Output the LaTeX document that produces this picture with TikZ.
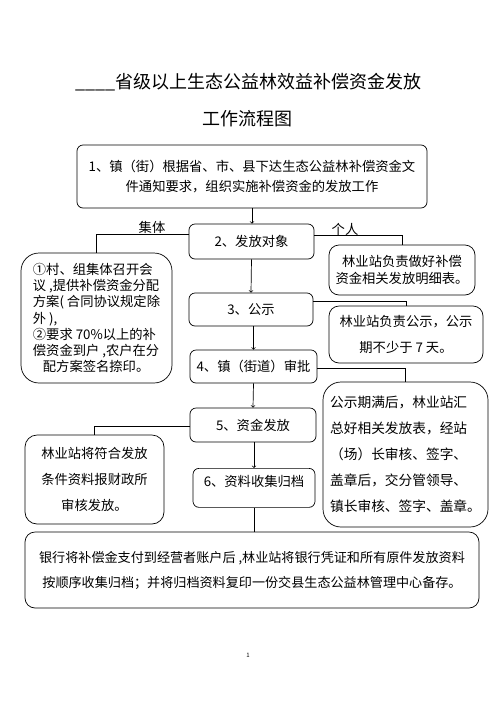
\documentclass[tikz,border=0pt]{standalone}
\usepackage{fontspec}
\setmainfont{Noto Sans CJK SC}

\begin{document}
\begin{tikzpicture}[x=1pt,y=-1pt,
	every node/.style={inner sep=2pt},
	box/.style={draw,rounded corners=6pt,line width=0.7pt,align=center,font=\fontsize{13.3}{20}\selectfont},
	sidebox/.style={box,rounded corners=10pt},
	bigbox/.style={box,rounded corners=18pt},
	link/.style={line width=0.7pt},
	flow/.style={link,->}]
	\useasboundingbox (0,0) rectangle (496,702);
	% title
	\node (title1) at (248.5,82) {\fontsize{18}{18}\selectfont \_\_\_\_省级以上生态公益林效益补偿资金发放};
	\node (title2) at (247.5,119) {\fontsize{18}{18}\selectfont 工作流程图};
	% main steps
	\node [box,minimum width=350pt,minimum height=63pt] (s1) at (252,176.5) {1、镇（街）根据省、市、县下达生态公益林补偿资金文\\件通知要求，组织实施补偿资金的发放工作};
	\node [box,minimum width=125pt,minimum height=35pt] (s2) at (251.5,241.5) {2、发放对象};
	\node [box,minimum width=124pt,minimum height=33pt] (s3) at (251,309.5) {3、公示};
	\node [box,minimum width=127pt,minimum height=33pt] (s4) at (253.5,366.5) {4、镇（街道）审批};
	\node [box,minimum width=126pt,minimum height=34pt] (s5) at (253,425) {5、资金发放};
	\node [box,minimum width=122pt,text height=16pt,text depth=19pt,anchor=north] (s6) at (254,468) {6、资料收集归档};
	\node [sidebox,minimum width=454pt,minimum height=76pt,font=\fontsize{13.1}{25}\selectfont] (s7) at (252,570) {银行将补偿金支付到经营者账户后 ,林业站将银行凭证和所有原件发放资料\\按顺序收集归档；并将归档资料复印一份交县生态公益林管理中心备存。};
	% side notes
	\node [sidebox,minimum width=146pt,minimum height=50pt,font=\fontsize{13.3}{17}\selectfont] (r1) at (402,270) {林业站负责做好补偿\\资金相关发放明细表。};
	\node [bigbox,minimum width=151pt,minimum height=130pt,align=left,font=\fontsize{13.3}{16.3}\selectfont] (l1) at (96.5,318) {①村、组集体召开会\\议 ,提供补偿资金分配\\方案( 合同协议规定除\\外 ),\\②要求 70\%以上的补\\偿资金到户 ,农户在分\\\hspace*{10pt}配方案签名捺印。};
	\node [sidebox,minimum width=154pt,minimum height=57pt,font=\fontsize{13.3}{26}\selectfont] (r2) at (406,334.5) {林业站负责公示，公示\\期不少于 7 天。};
	\node [bigbox,minimum width=165pt,minimum height=145pt,align=left,font=\fontsize{13.7}{26}\selectfont] (r3) at (405.5,454.5) {公示期满后，林业站汇\\总好相关发放表，经站\\（场）长审核、签字、\\盖章后，交分管领导、\\镇长审核、签字、盖章。};
	\node [sidebox,rounded corners=12pt,minimum width=139pt,minimum height=89pt,font=\fontsize{13.3}{26}\selectfont] (l2) at (94.5,479.5) {林业站将符合发放\\条件资料报财政所\\审核发放。};
	% branch labels
	\node [font=\fontsize{13.3}{13.3}\selectfont] (jt) at (152,227) {集体};
	\node [font=\fontsize{13.3}{13.3}\selectfont] (gr) at (345,229) {个人};
	% connectors
	\draw [flow] (s1.south) -- (s1.south |- s2.north);
	\draw [flow] (s2.south) -- (s3.north);
	\draw [flow] (s4.north |- s3.south) -- (s4.north);
	\draw [flow] (s4.south) -- (s5.north);
	\draw [flow] (s6.north |- s5.south) -- (s6.north);
	\draw [link] (s6.south) -- (s6.south |- s7.north);
	\draw [link] ([yshift=7.5pt]s2.west) -| (l1.north);
	\draw [link] ([yshift=6.5pt]s2.east) -| (r1.north);
	\draw [link] ([yshift=8.5pt]s3.east) -| (r2.north);
	\draw [link] ([yshift=-1.5pt]s4.east) -| (r3.north);
	\draw [link] ([yshift=-1pt]s5.west) -| (l2.north);
	% page number
	\node (pagenum) at (248,655) {\fontsize{6}{6}\selectfont 1};
\end{tikzpicture}
\end{document}
